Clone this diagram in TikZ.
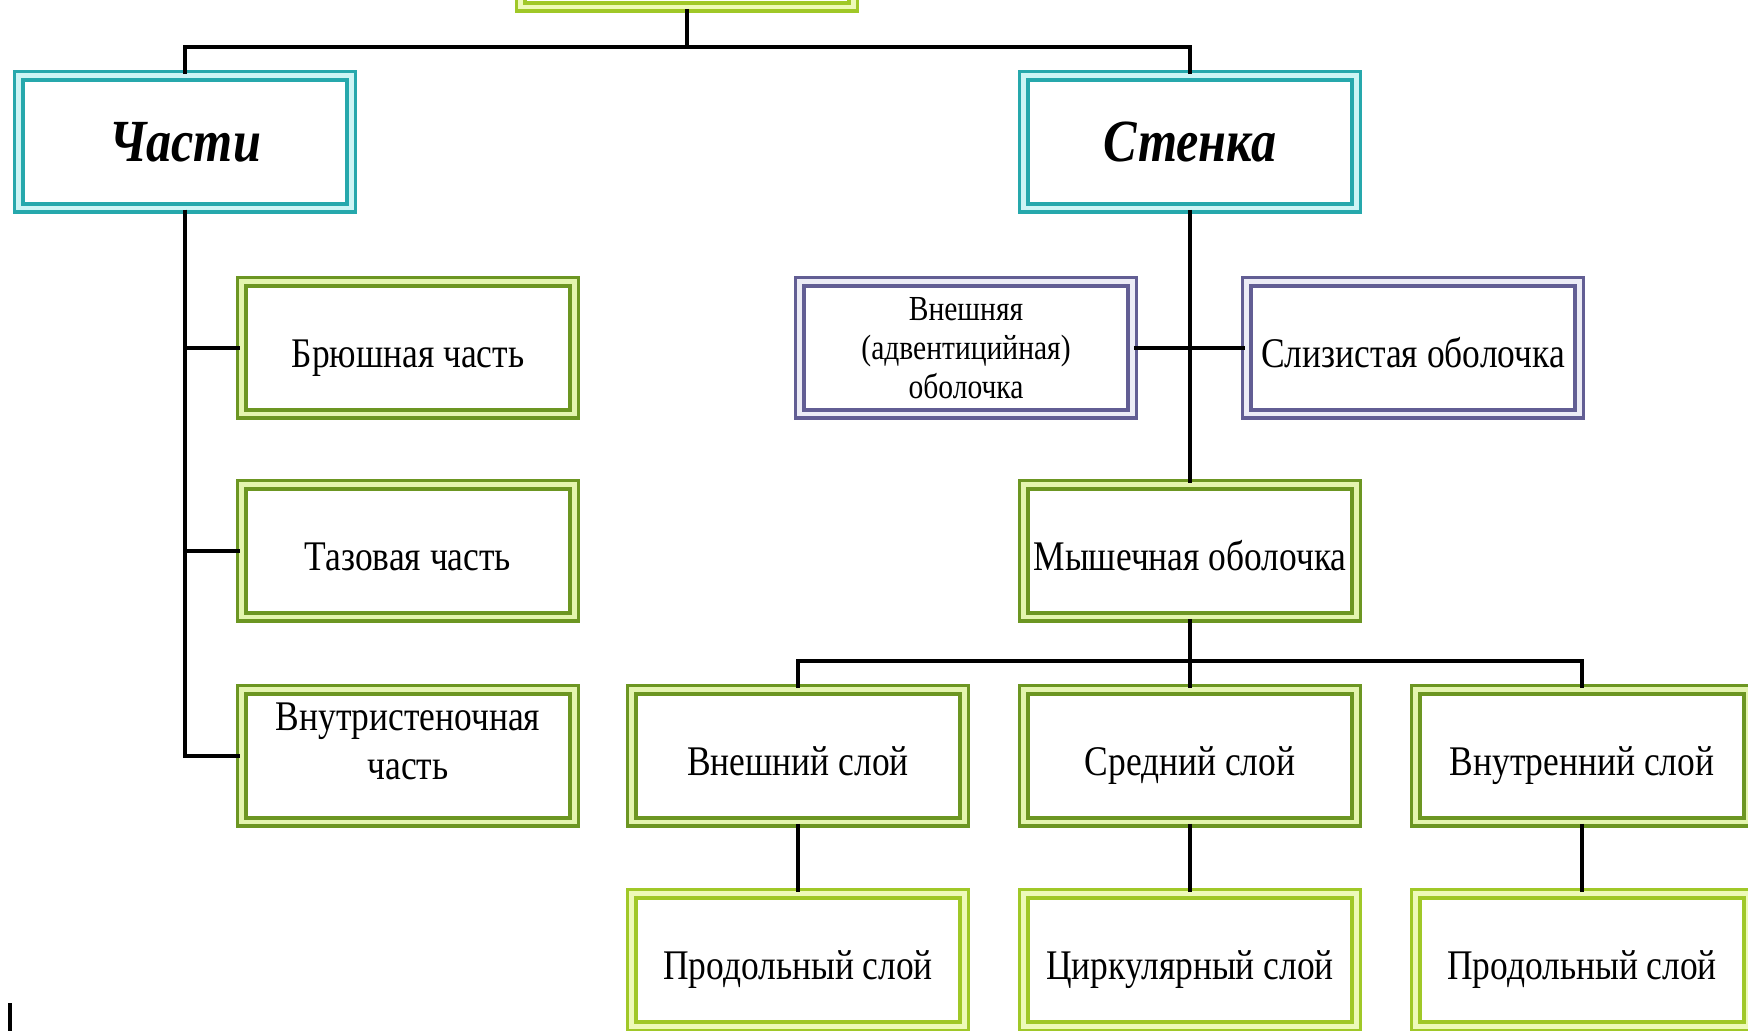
\documentclass[tikz,border=0pt]{standalone}
\usepackage{fontspec}
\setmainfont[FakeStretch=0.84]{Liberation Serif}
\usepackage{tikz}
\definecolor{tealline}{RGB}{38,168,172}
\definecolor{tealgap}{RGB}{205,245,245}
\definecolor{oliveline}{RGB}{108,150,34}
\definecolor{olivegap}{RGB}{228,245,175}
\definecolor{limeline}{RGB}{160,200,40}
\definecolor{limegap}{RGB}{238,250,185}
\definecolor{plumline}{RGB}{98,94,148}
\definecolor{plumgap}{RGB}{236,236,246}
\tikzset{basebox/.style={line width=1.1pt, double distance=1.4pt, fill=white,
    minimum width=3.32cm, minimum height=1.32cm, inner sep=1pt, align=center,
    text height=0.48cm, text depth=0.09cm,
    font=\fontsize{12}{13.8}\selectfont},
  tealbox/.style={basebox, draw=tealline, double=tealgap,
    font=\fontsize{17}{19}\selectfont\bfseries\itshape},
  olivebox/.style={basebox, draw=oliveline, double=olivegap},
  limebox/.style={basebox, draw=limeline, double=limegap},
  plumbox/.style={basebox, draw=plumline, double=plumgap},
  twolines/.style={text height=, text depth=},
  link/.style={line width=1.1pt}
}

\begin{document}
\begin{tikzpicture}[x=0.01cm, y=-0.01cm]
  \clip (0,0) rectangle (1748,1031);
  \node[limebox] (top) at (687,-59) {};
  \node[tealbox] (chasti) at (185,142) {Части};
  \node[tealbox] (stenka) at (1190,142) {Стенка};
  \node[olivebox] (bryush) at (408,348) {Брюшная часть};
  \node[olivebox] (taz) at (408,551) {Тазовая часть};
  \node[olivebox, twolines, text depth=0.3cm] (vnutri) at (408,756) {Внутристеночная\\часть};
  \node[plumbox, twolines, font=\fontsize{10}{11}\selectfont] (adv) at (966,348) {Внешняя\\(адвентицийная)\\оболочка};
  \node[plumbox] (sliz) at (1413,348) {Слизистая оболочка};
  \node[olivebox] (myshech) at (1190,551) {Мышечная оболочка};
  \node[olivebox] (nar) at (798,756) {Внешний слой};
  \node[olivebox] (sred) at (1190,756) {Средний слой};
  \node[olivebox] (vnutr) at (1582,756) {Внутренний слой};
  \node[limebox] (prod1) at (798,960) {Продольный слой};
  \node[limebox] (cirk) at (1190,960) {Циркулярный слой};
  \node[limebox] (prod2) at (1582,960) {Продольный слой};
  % connectors
  \coordinate (bus1) at (687,47);
  \coordinate (bus2) at (1190,661);
  \draw[link] (top.south) -- (bus1) -| (chasti.north);
  \draw[link] (bus1) -| (stenka.north);
  \draw[link] (chasti.south) |- (bryush.west);
  \draw[link] (chasti.south) |- (taz.west);
  \draw[link] (chasti.south) |- (vnutri.west);
  \draw[link] (stenka.south) -- (myshech.north);
  \draw[link] (adv.east) -- (sliz.west);
  \draw[link] (myshech.south) -- (bus2);
  \draw[link] (bus2) -| (nar.north);
  \draw[link] (bus2) -| (vnutr.north);
  \draw[link] (bus2) -- (sred.north);
  \draw[link] (nar.south) -- (prod1.north);
  \draw[link] (sred.south) -- (cirk.north);
  \draw[link] (vnutr.south) -- (prod2.north);
  \draw[line width=1.4pt] (10,1003) -- (10,1031);
\end{tikzpicture}
\end{document}
